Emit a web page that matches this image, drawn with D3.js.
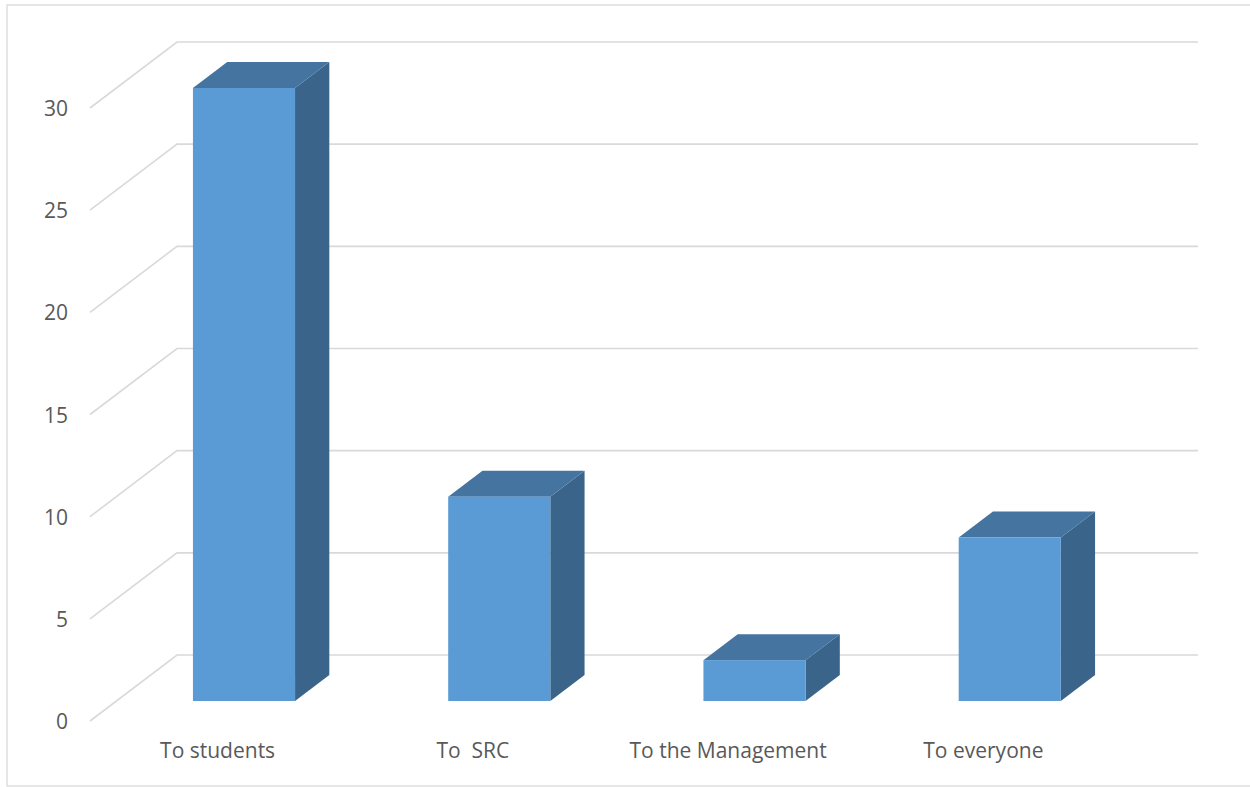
<!DOCTYPE html>
<html>
<head>
<meta charset="utf-8">
<script src="https://cdn.jsdelivr.net/npm/d3@7"></script>
<style>
  html, body { margin: 0; padding: 0; background: #fff; }
  svg { display: block; }
</style>
</head>
<body>
<svg id="chart" width="1250" height="787"></svg>
<script>
const categories = ["To students", "To  SRC", "To the Management", "To everyone"];
const values = [30, 10, 2, 8];
const tickValues = [0, 5, 10, 15, 20, 25, 30];

const svg = d3.select("#chart");

// frame
svg.append("rect").attr("x", 7).attr("y", 5).attr("width", 1250).attr("height", 781)
  .attr("fill", "#fff").attr("stroke", "#D9D9D9").attr("stroke-width", 1.3);

// 3D geometry: front plane, back plane offset
const depthDX = 87, depthDY = -66;
const x = d3.scaleBand().domain(categories).range([90, 1111]).paddingInner(0).paddingOuter(0);
const y = d3.scaleLinear().domain([0, 30]).range([721, 108]);

const gridColor = "#D9D9D9";
const g = svg.append("g");

// gridlines: left wall diagonal + back wall horizontal
tickValues.forEach(t => {
  const yf = y(t);
  g.append("path")
    .attr("d", `M${x.range()[0]},${yf} L${x.range()[0] + depthDX},${yf + depthDY} L${x.range()[1] + depthDX},${yf + depthDY}`)
    .attr("fill", "none").attr("stroke", gridColor).attr("stroke-width", 1.6);
});

// y tick labels
g.selectAll("text.ytick").data(tickValues).join("text")
  .attr("class", "ytick")
  .attr("x", 68).attr("y", d => y(d))
  .attr("text-anchor", "end").attr("dominant-baseline", "central")
  .attr("font-family", "'Open Sans', sans-serif").attr("font-size", 21)
  .attr("fill", "#595959")
  .text(d => d);

// bars
const barFrac = 0.4;       // bar width relative to band
const zFront = 20 / 66;    // depth position of bar front (fraction of depth)
const zDepth = 26 / 66;    // bar depth fraction
const fdx = depthDX * zFront, fdy = depthDY * zFront;
const bdx = depthDX * zDepth, bdy = depthDY * zDepth;

const colFront = "#5B9BD5", colTop = "#44749F", colSide = "#3A6489";

categories.forEach((c, i) => {
  const v = values[i];
  const bw = x.bandwidth() * barFrac;
  const cx = x(c) + x.bandwidth() / 2 + fdx;
  const x0 = cx - bw / 2, x1 = cx + bw / 2;
  const yTop = y(v) + fdy, yBot = y(0) + fdy;
  const bar = g.append("g");
  bar.append("path")
    .attr("d", `M${x1},${yTop} L${x1 + bdx},${yTop + bdy} L${x1 + bdx},${yBot + bdy} L${x1},${yBot} Z`)
    .attr("fill", colSide);
  bar.append("path")
    .attr("d", `M${x0},${yTop} L${x0 + bdx},${yTop + bdy} L${x1 + bdx},${yTop + bdy} L${x1},${yTop} Z`)
    .attr("fill", colTop);
  bar.append("rect")
    .attr("x", x0).attr("y", yTop).attr("width", bw).attr("height", yBot - yTop)
    .attr("fill", colFront);
});

// category labels
g.selectAll("text.xcat").data(categories).join("text")
  .attr("class", "xcat")
  .attr("x", d => x(d) + x.bandwidth() / 2)
  .attr("y", 758)
  .attr("text-anchor", "middle")
  .attr("font-family", "'Open Sans', sans-serif").attr("font-size", 21)
  .attr("fill", "#595959")
  .style("white-space", "pre")
  .attr("xml:space", "preserve")
  .text(d => d);
</script>
</body>
</html>
